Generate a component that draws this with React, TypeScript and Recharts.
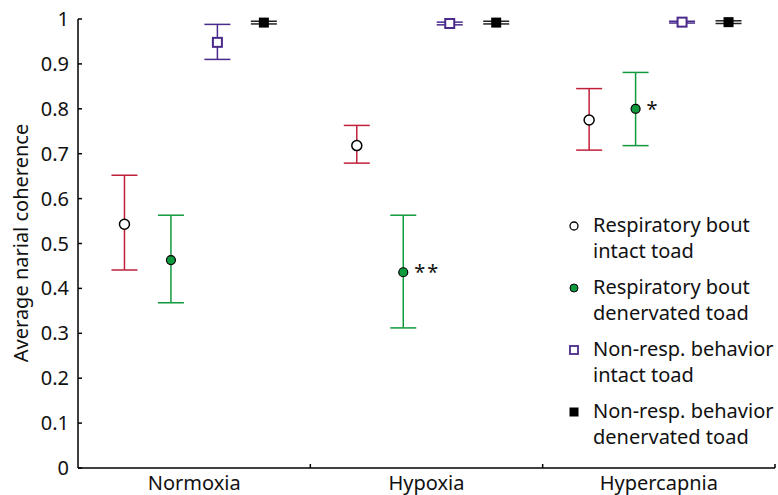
import { ScatterChart, Scatter, XAxis, YAxis, ErrorBar } from 'recharts';

const conditions = ['Normoxia', 'Hypoxia', 'Hypercapnia'];
const yTicks = [0, 0.1, 0.2, 0.3, 0.4, 0.5, 0.6, 0.7, 0.8, 0.9, 1];

// mean, lower, upper per condition
const respIntactMean = [0.543, 0.718, 0.775];
const respIntactLow = [0.441, 0.679, 0.708];
const respIntactHigh = [0.652, 0.763, 0.845];

const respDenervMean = [0.463, 0.436, 0.8];
const respDenervLow = [0.368, 0.312, 0.718];
const respDenervHigh = [0.563, 0.563, 0.881];
const respDenervSig = ['', '**', '*'];

const nonRespIntactMean = [0.948, 0.99, 0.993];
const nonRespIntactLow = [0.91, 0.987, 0.991];
const nonRespIntactHigh = [0.988, 0.993, 0.995];

const nonRespDenervMean = [0.992, 0.992, 0.993];
const nonRespDenervLow = [0.989, 0.989, 0.99];
const nonRespDenervHigh = [0.995, 0.995, 0.996];

const RED = '#c0203a';
const GREEN = '#109a3e';
const PURPLE = '#4a2a8a';
const FONT = '"Noto Sans", "Open Sans", sans-serif';

const build = (offset: number, mean: number[], low: number[], high: number[], sig?: string[]) =>
  conditions.map((c, i) => ({
    x: i + offset,
    y: mean[i],
    err: [mean[i] - low[i], high[i] - mean[i]],
    sig: sig ? sig[i] : '',
  }));

const respIntact = build(0.2, respIntactMean, respIntactLow, respIntactHigh);
const respDenerv = build(0.4, respDenervMean, respDenervLow, respDenervHigh, respDenervSig);
const nonRespIntact = build(0.6, nonRespIntactMean, nonRespIntactLow, nonRespIntactHigh);
const nonRespDenerv = build(0.8, nonRespDenervMean, nonRespDenervLow, nonRespDenervHigh);

const legendItems = [
  { kind: 'openCircle', lines: ['Respiratory bout', 'intact toad'] },
  { kind: 'greenCircle', lines: ['Respiratory bout', 'denervated toad'] },
  { kind: 'openSquare', lines: ['Non-resp. behavior', 'intact toad'] },
  { kind: 'blackSquare', lines: ['Non-resp. behavior', 'denervated toad'] },
];

const YTick = (props: any) => {
  const { x, y, payload } = props;
  return (
    <g>
      <line x1={x} x2={x + 4} y1={y} y2={y} stroke="#000" strokeWidth={1.5} />
      <text x={x - 9} y={y} dy={7} textAnchor="end" fontSize={20} fill="#111" fontFamily={FONT}>
        {payload.value}
      </text>
    </g>
  );
};

const XTick = (props: any) => {
  const { x, y, payload } = props;
  const v = payload.value as number;
  if (Number.isInteger(v)) {
    if (v === 0) return null;
    return <line x1={x} x2={x} y1={y} y2={y - 4} stroke="#000" strokeWidth={1.5} />;
  }
  return (
    <text x={x} y={y} dy={22} textAnchor="middle" fontSize={20} fill="#111" fontFamily={FONT}>
      {conditions[Math.floor(v)]}
    </text>
  );
};

const OpenCircle = (props: any) => (
  <circle cx={props.cx} cy={props.cy} r={5} fill="#fff" stroke="#000" strokeWidth={1.5} />
);

const GreenCircle = (props: any) => (
  <g>
    <circle cx={props.cx} cy={props.cy} r={4.5} fill={GREEN} stroke="#000" strokeWidth={1.2} />
    {props.payload?.sig ? (
      <text x={props.cx + 11} y={props.cy} dy={7} fontSize={20} fill="#111" fontFamily={FONT} letterSpacing={2}>
        {props.payload.sig}
      </text>
    ) : null}
  </g>
);

const OpenSquare = (props: any) => (
  <rect x={props.cx - 4.5} y={props.cy - 4.5} width={9} height={9} fill="#fff" stroke={PURPLE} strokeWidth={2} />
);

const BlackSquare = (props: any) => (
  <rect x={props.cx - 5} y={props.cy - 5} width={10} height={10} fill="#000" />
);

const LegendMarker = ({ kind, x, y }: { kind: string; x: number; y: number }) => {
  if (kind === 'openCircle') return <circle cx={x} cy={y} r={4} fill="#fff" stroke="#000" strokeWidth={1.3} />;
  if (kind === 'greenCircle') return <circle cx={x} cy={y} r={4} fill={GREEN} stroke="#000" strokeWidth={1} />;
  if (kind === 'openSquare')
    return <rect x={x - 4} y={y - 4} width={8} height={8} fill="#fff" stroke={PURPLE} strokeWidth={1.8} />;
  return <rect x={x - 4.5} y={y - 4.5} width={9} height={9} fill="#000" />;
};

export default function App() {
  return (
    <div style={{ position: 'absolute', left: 0, top: 0, width: 778, height: 495, background: '#fff' }}>
      <ScatterChart width={778} height={495} margin={{ top: 19, right: 3, bottom: 0, left: 0 }}>
        <XAxis
          type="number"
          dataKey="x"
          domain={[0, 3]}
          ticks={[0, 0.5, 1, 1.5, 2, 2.5, 3]}
          interval={0}
          tick={<XTick />}
          tickLine={false}
          tickSize={0}
          tickMargin={0}
          height={27}
          axisLine={{ stroke: '#000', strokeWidth: 1.5 }}
        />
        <YAxis
          type="number"
          dataKey="y"
          domain={[0, 1]}
          ticks={yTicks}
          interval={0}
          tick={<YTick />}
          tickLine={false}
          tickSize={0}
          tickMargin={0}
          width={78}
          axisLine={{ stroke: '#000', strokeWidth: 1.5 }}
        />
        <Scatter data={respIntact} shape={<OpenCircle />} isAnimationActive={false}>
          <ErrorBar dataKey="err" direction="y" width={13} stroke={RED} strokeWidth={1.5} />
        </Scatter>
        <Scatter data={respDenerv} shape={<GreenCircle />} isAnimationActive={false}>
          <ErrorBar dataKey="err" direction="y" width={13} stroke={GREEN} strokeWidth={1.5} />
        </Scatter>
        <Scatter data={nonRespIntact} shape={<OpenSquare />} isAnimationActive={false}>
          <ErrorBar dataKey="err" direction="y" width={13} stroke={PURPLE} strokeWidth={1.5} />
        </Scatter>
        <Scatter data={nonRespDenerv} shape={<BlackSquare />} isAnimationActive={false}>
          <ErrorBar dataKey="err" direction="y" width={13} stroke="#222" strokeWidth={1.5} />
        </Scatter>
      </ScatterChart>
      <svg width={778} height={495} style={{ position: 'absolute', left: 0, top: 0, pointerEvents: 'none' }}>
        <text
          transform="translate(28, 243) rotate(-90)"
          textAnchor="middle"
          fontSize={20}
          fill="#111"
          fontFamily={FONT}
        >
          Average narial coherence
        </text>
        {legendItems.map((item, i) => (
          <g key={item.kind} transform={`translate(0, ${232 + i * 62})`}>
            <LegendMarker kind={item.kind} x={574} y={-6} />
            {item.lines.map((line, j) => (
              <text key={j} x={593} y={j * 26} fontSize={20} fill="#111" fontFamily={FONT}>
                {line}
              </text>
            ))}
          </g>
        ))}
      </svg>
    </div>
  );
}
